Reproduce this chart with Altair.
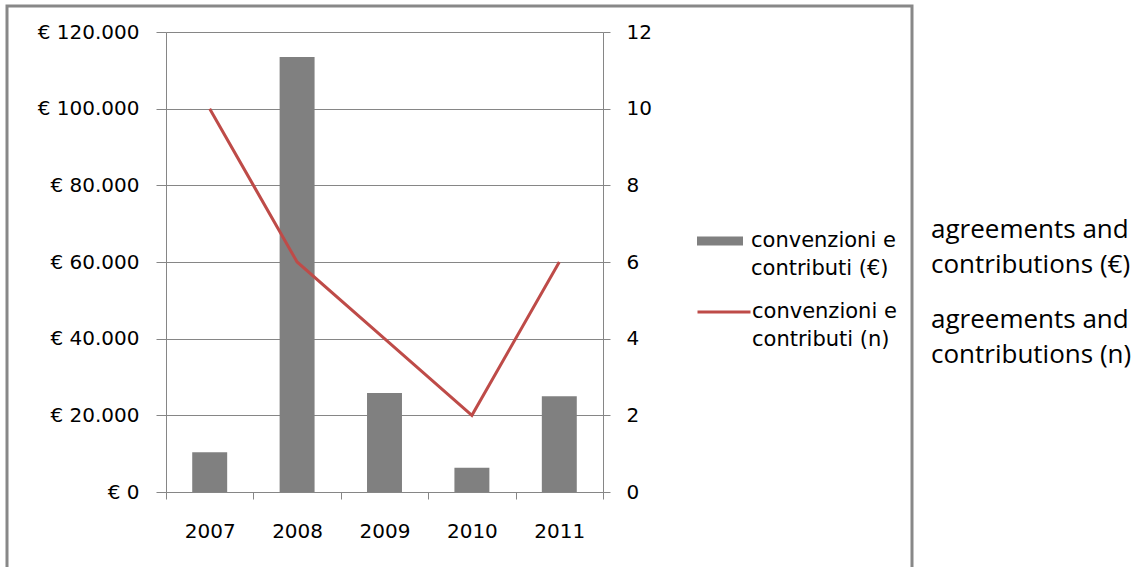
import altair as alt
import pandas as pd

# ---- data ----
years = ["2007", "2008", "2009", "2010", "2011"]
amounts_eur = [10400, 113500, 25800, 6300, 25000]
counts_n = [10, 6, 4, 2, 6]
bar_series = "convenzioni e contributi (€)"
line_series = "convenzioni e contributi (n)"
left_ticks = [0, 20000, 40000, 60000, 80000, 100000, 120000]
right_ticks = [0, 2, 4, 6, 8, 10, 12]
annotations = ["agreements and\ncontributions (€)", "agreements and\ncontributions (n)"]

GRID = "#868686"
BAR = "#808080"
RED = "#BE4B48"
FONT = "DejaVu Sans"

W, H = 437, 460
PAD_L, PAD_T = 166, 32

bars_df = pd.DataFrame({"year": years, "amount": amounts_eur, "series": bar_series})
line_df = pd.DataFrame({"year": years, "count": counts_n, "series": line_series})

x_enc = alt.X(
    "year:N",
    sort=years,
    scale=alt.Scale(paddingInner=0, paddingOuter=0),
    axis=alt.Axis(
        title=None, tickBand="extent", labelAngle=0, tickSize=7, labelPadding=22,
        labelFontSize=20, labelFont=FONT, labelColor="#000000",
        domainColor=GRID, tickColor=GRID, grid=False,
    ),
)

label_split = "[slice(datum.label, 0, 13), slice(datum.label, 14)]"

bars = alt.Chart(bars_df).mark_bar(width={"band": 0.4}, color=BAR).encode(
    x=x_enc,
    y=alt.Y(
        "amount:Q",
        scale=alt.Scale(domain=[0, 120000], nice=False),
        axis=alt.Axis(
            title=None, orient="left", values=left_ticks, grid=True, gridColor=GRID,
            domainColor=GRID, tickColor=GRID, tickSize=10, labelPadding=17,
            labelFontSize=20, labelFont=FONT, labelColor="#000000",
            labelExpr="'€ ' + replace(format(datum.value, ','), regexp(',', 'g'), '.')",
        ),
    ),
    color=alt.Color(
        "series:N",
        scale=alt.Scale(domain=[bar_series], range=[BAR]),
        legend=alt.Legend(
            title=None, orient="none", legendX=531, legendY=186, padding=0,
            symbolType="M-1,-0.2H1V0.2H-1Z", symbolSize=2116, symbolStrokeWidth=0,
            labelOffset=8, labelFontSize=21, labelFont=FONT, labelColor="#000000",
            labelLimit=400, labelExpr=label_split,
        ),
    ),
)

line = alt.Chart(line_df).mark_line(strokeWidth=3).encode(
    x=x_enc,
    y=alt.Y(
        "count:Q",
        scale=alt.Scale(domain=[0, 12], nice=False),
        axis=alt.Axis(
            title=None, orient="right", values=right_ticks, grid=False,
            domainColor=GRID, tickColor=GRID, tickSize=7, labelPadding=16,
            labelFontSize=20, labelFont=FONT, labelColor="#000000",
        ),
    ),
    stroke=alt.Stroke(
        "series:N",
        scale=alt.Scale(domain=[line_series], range=[RED]),
        legend=alt.Legend(
            title=None, orient="none", legendX=530, legendY=252, padding=0,
            symbolType="M-1,0H1", symbolSize=2809, symbolStrokeWidth=3,
            labelOffset=0, labelFontSize=21, labelFont=FONT, labelColor="#000000",
            labelLimit=400, labelExpr=label_split,
        ),
    ),
)

frame = alt.Chart(alt.Data(values=[{}])).mark_rect(
    filled=False, stroke="#888888", strokeWidth=3
).encode(
    x=alt.value(7 - PAD_L), x2=alt.value(912 - PAD_L),
    y=alt.value(6 - PAD_T), y2=alt.value(620 - PAD_T),
)

texts = []
for i, t in enumerate(annotations):
    texts.append(
        alt.Chart(alt.Data(values=[{"t": t}])).mark_text(
            align="left", baseline="alphabetic", font="Open Sans", fontSize=26,
            lineBreak="\n", lineHeight=35, color="#000000",
        ).encode(
            text="t:N",
            x=alt.value(931 - PAD_L),
            y=alt.value(238 + 90 * i - PAD_T),
        )
    )

chart = alt.layer(frame, bars, line, *texts).resolve_scale(y="independent").properties(
    width=W, height=H,
    autosize="none",
    padding={"left": PAD_L, "top": PAD_T, "right": 1132 - PAD_L - W, "bottom": 567 - PAD_T - H},
).configure_view(stroke=None).configure(
    background="white",
    style={"guide-label": {"lineHeight": 28}},
)

chart.save("out.html", embed_options={"renderer": "svg", "actions": False})
